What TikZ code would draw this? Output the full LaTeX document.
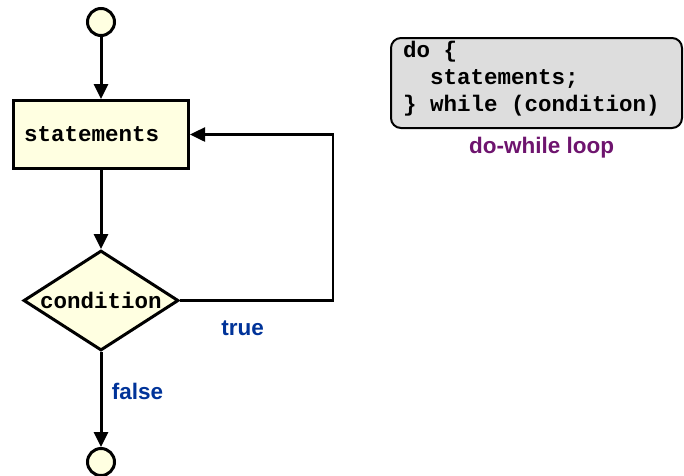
\documentclass[tikz,border=0pt]{standalone}
\usepackage{fontspec}
\setmainfont{Liberation Sans}
\setsansfont{Liberation Sans}
\setmonofont{Liberation Mono}
\usetikzlibrary{shapes.geometric, arrows.meta, positioning}

\definecolor{paleyellow}{RGB}{255,255,225}
\definecolor{codegray}{RGB}{221,221,221}
\definecolor{labelblue}{RGB}{0,51,153}
\definecolor{looppurple}{RGB}{110,20,110}

\newcommand{\diagsize}{\fontsize{22.5}{27}\selectfont}
\newcommand{\tsp}{\hspace*{0.6em}}% one full mono cell

\begin{document}
\begin{tikzpicture}[
        >={Triangle[length=15pt, width=14pt]},
        font=\diagsize,
        % Define Styles
        termcircle/.style={circle, draw, fill=paleyellow, line width=3pt, minimum size=27pt, inner sep=0pt},
        stmtbox/.style={rectangle, draw, fill=paleyellow, line width=3pt, minimum height=68pt, text width=154pt, inner xsep=10.5pt, align=left, font=\diagsize\ttfamily\bfseries},
        condbox/.style={diamond, draw, fill=paleyellow, line width=3pt, minimum width=155pt, minimum height=100pt, aspect=1.53, inner sep=0pt, font=\diagsize\ttfamily\bfseries},
        codebox/.style={rectangle, draw, fill=codegray, line width=2pt, rounded corners=10pt, minimum width=291pt, minimum height=90pt, text width=267pt, inner xsep=12pt, align=left, font=\diagsize\ttfamily\bfseries, execute at end node={\endgraf\vspace*{8pt}}},
        lbl/.style={font=\diagsize\sffamily\bfseries, text=labelblue},
        arrow/.style={->, line width=3pt}
    ]
    \useasboundingbox (0,0) rectangle (684pt,-475pt);

    % --- FLOWCHART ---
    \node[termcircle] (start) at (101pt,-22pt) {};
    \node[stmtbox, below=62pt of start] (stmts) {statements};
    \node[condbox, below=79pt of stmts] (cond) {condition};
    \node[termcircle, below=95pt of cond] (stop) {};

    \draw[arrow] (start) -- (stmts);
    \draw[arrow] (stmts) -- (cond);
    \draw[arrow] (cond) -- node[lbl, right, pos=0.42, xshift=6pt] {false} (stop);

    % back edge
    \draw[arrow, line width=2.5pt] (cond.east) -- node[lbl, below, pos=0.41, yshift=-16pt] {true} ++(153pt,0) |- (stmts.east);

    % --- CODE ---
    \node[codebox] (code) at (536.5pt,-83pt) {do\tsp\{\\ \tsp\tsp statements;\\ \}\tsp while\tsp(condition)};
    \node[lbl, text=looppurple, below=5pt of code, xshift=5pt] (caption) {do-while loop};

\end{tikzpicture}
\end{document}
